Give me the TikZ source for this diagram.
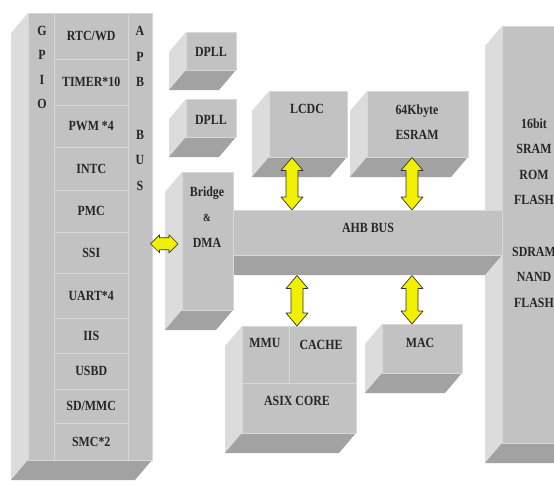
\documentclass[tikz,border=0pt]{standalone}
\usepackage{fontspec}
\setmainfont{Liberation Serif}[FakeStretch=0.85]
\usetikzlibrary{calc}

\definecolor{boxfront}{HTML}{C2C2C2}
\definecolor{boxside}{HTML}{DCDCDC}
\definecolor{boxbottom}{HTML}{A2A2A2}
\definecolor{cellline}{HTML}{D8D8D8}
\definecolor{busyellow}{HTML}{F0F000}

\tikzset{
  front/.style={fill=boxfront, draw=cellline, line width=0.5pt, inner sep=0pt, anchor=north west},
  lbl/.style={font=\fontsize{14}{25.5}\selectfont\bfseries, text=black!85, inner sep=0pt, align=center},
  cell/.style={front, draw=cellline, minimum width=74pt, font=\fontsize{14}{16}\selectfont\bfseries, text=black!85},
  divider/.style={draw=cellline, line width=0.8pt},
  busarrow/.style={fill=busyellow, draw=black!80, line width=0.7pt, line join=round},
}

% solid block: name, x0, y0, x1, y1 of the front face
\newcommand{\solidblock}[5]{%
  \fill[boxside] (#2,#3) -- (#2,#5) -- ++(-17,20) -- (#2-17,#3+20) -- cycle;
  \fill[boxbottom] (#2,#5) -- (#4,#5) -- ++(-17,20) -- (#2-17,#5+20) -- cycle;
  \node[front, minimum width={(#4-#2)*1pt}, minimum height={(#5-#3)*1pt}] (#1) at (#2,#3) {};
}
% yellow double arrows, tip to tip
\newcommand{\vbus}[2]{%
  \draw[busarrow] (#1) -- ++(11,13) -- ++(-5,0) -- ($(#2)+(6,-13)$) -- ++(5,0) -- (#2)
    -- ++(-11,-13) -- ++(5,0) -- ($(#1)+(-6,13)$) -- ++(-5,0) -- cycle;
}
\newcommand{\hbus}[2]{%
  \draw[busarrow] (#1) -- ++(9,-9) -- ++(0,3) -- ($(#2)+(-9,-6)$) -- ++(0,-3) -- (#2)
    -- ++(-9,9) -- ++(0,-3) -- ($(#1)+(9,6)$) -- ++(0,3) -- cycle;
}

\begin{document}
\begin{tikzpicture}[x=1pt,y=-1pt]
  \useasboundingbox (0,0) rectangle (554,485);
  \clip (0,0) rectangle (554,485);

  % external memory, then the AHB bus in front of it
  \solidblock{mem}{502}{26}{575}{443}
  \solidblock{ahb}{233}{210}{502}{255}

  % APB side
  \solidblock{apb}{28}{13}{152}{460}
  \foreach \name/\ya/\yb [count=\i] in {{RTC/WD}/13/59, {TIMER*10}/59/105, {PWM *4}/105/147,
      INTC/147/190, PMC/190/232, SSI/232/273, {UART*4}/273/318, IIS/318/353,
      USBD/353/389, {SD/MMC}/389/423, {SMC*2}/423/460}
    \node[cell, minimum height={(\yb-\ya)*1pt}] (cell\i) at (54,\ya) {\name};
  \foreach \ch [count=\i] in {G,P,I,O}
    \node[lbl] (gpio\i) at (42,6+24.5*\i) {\ch};
  \foreach \ch/\y [count=\i] in {A/31,P/57,B/82,B/135,U/160,S/186}
    \node[lbl] (apbbus\i) at (140,\y) {\ch};

  \solidblock{dpllA}{186}{32}{236}{70}
  \solidblock{dpllB}{186}{99}{236}{137}
  \solidblock{bridge}{182}{172}{233}{310}
  \solidblock{lcdc}{269}{91}{347}{157}
  \solidblock{esram}{367}{91}{468}{157}
  \solidblock{cpu}{242}{326}{356}{433}
  \solidblock{mac}{382}{324}{462}{373}

  % cpu inner split
  \draw[divider] ($(cpu.north west)+(47,0)$) -- ($(cpu.north west)+(47,57)$);
  \draw[divider] ($(cpu.north west)+(0,57)$) -- ($(cpu.north east)+(0,57)$);

  % labels
  \node[lbl] (dpllAtext) at (211,52) {DPLL};
  \node[lbl] (dpllBtext) at (211,120) {DPLL};
  \node[lbl] (bridgetext) at (207,217) {Bridge\\{\fontsize{11}{25.5}\selectfont\&}\\DMA};
  \node[lbl] (lcdctext) at (307,109) {LCDC};
  \node[lbl] (esramtext) at (417,122) {64Kbyte\\ESRAM};
  \node[lbl] (ahbtext) at (368,228) {AHB BUS};
  \node[lbl] (mmutext) at (265,343) {MMU};
  \node[lbl] (cachetext) at (321,345) {CACHE};
  \node[lbl] (coretext) at (297,401) {ASIX CORE};
  \node[lbl] (mactext) at (420,343) {MAC};
  \node[lbl] (memtext) at (534,213) {16bit\\SRAM\\ROM\\FLASH\\[26pt]SDRAM\\NAND\\FLASH};

  % bus connections
  \coordinate (ahbbase) at ($(ahb.south west)+(0,20)$);
  \coordinate (lcdctap) at ($(lcdc.south west)+(23,0)$);
  \coordinate (esramtap) at ($(esram.south west)+(45,0)$);
  \coordinate (cputap) at ($(cpu.north west)+(55,0)$);
  \coordinate (mactap) at ($(mac.north west)+(30,0)$);
  \coordinate (apbtap) at ($(apb.east)+(-2,7)$);
  \coordinate (bridgetap) at ($(apbtap -| bridge.west)+(-4,0)$);
  \vbus{lcdctap}{lcdctap |- ahb.north}
  \vbus{esramtap}{esramtap |- ahb.north}
  \vbus{cputap |- ahbbase}{cputap}
  \vbus{mactap |- ahbbase}{mactap}
  \hbus{apbtap}{bridgetap}
\end{tikzpicture}
\end{document}
